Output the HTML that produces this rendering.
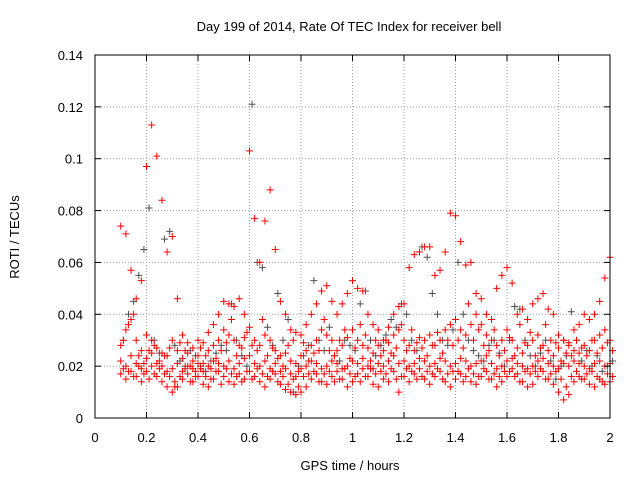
<!DOCTYPE html>
<html><head><meta charset="utf-8"><style>
body{margin:0;background:#fff;}
svg{display:block;font-family:"Liberation Sans",sans-serif;}
</style></head><body>
<svg id="chart" width="640" height="480" viewBox="0 0 640 480">
<rect width="640" height="480" fill="#fff"/>
<text x="349" y="31" font-size="13" text-anchor="middle">Day 199 of 2014, Rate Of TEC Index for receiver bell</text>
<text transform="translate(19,237) rotate(-90)" font-size="13" text-anchor="middle">ROTI / TECUs</text>
<text x="350" y="470" font-size="13" text-anchor="middle">GPS time / hours</text>
<g id="grid"></g><g id="pts"></g><g id="axes"></g>
</svg>
<script>
const times=[0.10,0.12,0.14,0.16,0.18,0.20,0.22,0.24,0.26,0.28,0.30,0.32,0.34,0.36,0.38,0.40,0.42,0.44,0.46,0.48,0.50,0.52,0.54,0.56,0.58,0.60,0.62,0.64,0.66,0.68,0.70,0.72,0.74,0.76,0.78,0.80,0.82,0.84,0.86,0.88,0.90,0.92,0.94,0.96,0.98,1.00,1.02,1.04,1.06,1.08,1.10,1.12,1.14,1.16,1.18,1.20,1.22,1.24,1.26,1.28,1.30,1.32,1.34,1.36,1.38,1.40,1.42,1.44,1.46,1.48,1.50,1.52,1.54,1.56,1.58,1.60,1.62,1.64,1.66,1.68,1.70,1.72,1.74,1.76,1.78,1.80,1.82,1.84,1.86,1.88,1.90,1.92,1.94,1.96,1.98,2.00];
const redHigh=[0.074,0.071,0.057,0.046,0.053,0.097,0.113,0.101,0.084,0.064,0.070,0.046,0.032,0.029,0.027,0.030,0.029,0.033,0.036,0.040,0.045,0.044,0.043,0.046,0.040,0.103,0.077,0.060,0.076,0.088,0.065,0.045,0.040,0.034,0.033,0.032,0.036,0.040,0.044,0.049,0.051,0.045,0.040,0.044,0.048,0.053,0.050,0.049,0.040,0.036,0.034,0.030,0.035,0.040,0.043,0.044,0.058,0.063,0.064,0.066,0.066,0.055,0.057,0.064,0.079,0.078,0.068,0.059,0.060,0.048,0.046,0.040,0.038,0.050,0.055,0.058,0.052,0.040,0.042,0.038,0.044,0.046,0.048,0.042,0.040,0.032,0.030,0.029,0.034,0.036,0.040,0.038,0.040,0.045,0.054,0.062];
const redMid=[0.028,0.034,0.038,0.030,0.026,0.032,0.030,0.027,0.025,0.024,0.030,0.026,0.023,0.025,0.022,0.024,0.021,0.026,0.028,0.030,0.034,0.032,0.030,0.028,0.031,0.035,0.030,0.028,0.032,0.030,0.026,0.024,0.025,0.022,0.021,0.024,0.026,0.028,0.030,0.034,0.032,0.030,0.026,0.028,0.031,0.034,0.030,0.028,0.027,0.025,0.028,0.026,0.029,0.032,0.034,0.030,0.028,0.026,0.031,0.030,0.032,0.028,0.030,0.034,0.036,0.038,0.034,0.032,0.036,0.040,0.036,0.032,0.030,0.028,0.030,0.034,0.030,0.027,0.025,0.028,0.030,0.032,0.028,0.026,0.024,0.027,0.030,0.028,0.026,0.025,0.028,0.026,0.030,0.032,0.034,0.030];
const redBase=[0.022,0.020,0.024,0.021,0.019,0.023,0.025,0.021,0.020,0.018,0.019,0.021,0.018,0.020,0.019,0.021,0.018,0.020,0.022,0.021,0.020,0.022,0.019,0.021,0.023,0.024,0.021,0.020,0.022,0.019,0.021,0.018,0.019,0.017,0.016,0.019,0.020,0.022,0.021,0.019,0.020,0.022,0.021,0.019,0.020,0.022,0.021,0.023,0.020,0.019,0.021,0.020,0.022,0.024,0.021,0.022,0.020,0.021,0.023,0.022,0.020,0.021,0.023,0.022,0.020,0.021,0.023,0.022,0.020,0.021,0.022,0.024,0.021,0.019,0.020,0.022,0.023,0.021,0.020,0.019,0.020,0.022,0.023,0.021,0.020,0.019,0.021,0.020,0.022,0.021,0.020,0.019,0.021,0.022,0.020,0.021];
const redLow=[0.017,0.015,0.018,0.016,0.014,0.018,0.020,0.016,0.014,0.012,0.010,0.012,0.015,0.017,0.014,0.016,0.013,0.012,0.015,0.018,0.016,0.014,0.013,0.017,0.015,0.018,0.016,0.014,0.012,0.015,0.017,0.013,0.011,0.010,0.009,0.010,0.012,0.015,0.017,0.014,0.013,0.016,0.018,0.015,0.012,0.014,0.017,0.019,0.016,0.013,0.012,0.015,0.014,0.018,0.010,0.016,0.014,0.017,0.019,0.015,0.013,0.016,0.018,0.014,0.012,0.015,0.017,0.016,0.014,0.013,0.016,0.018,0.015,0.012,0.014,0.016,0.019,0.017,0.014,0.012,0.013,0.016,0.018,0.015,0.013,0.010,0.007,0.009,0.014,0.016,0.015,0.013,0.012,0.015,0.013,0.014];
const redExtraA=[0.030,0.036,0.040,0.024,0.021,0.026,0.028,0.022,0.024,0.027,0.012,0.029,0.026,0.020,0.018,0.027,0.024,0.019,0.023,0.026,0.029,0.038,0.024,0.027,0.033,0.028,0.026,0.038,0.024,0.027,0.023,0.020,0.028,0.030,0.018,0.029,0.022,0.025,0.026,0.038,0.026,0.024,0.030,0.034,0.023,0.027,0.036,0.032,0.022,0.030,0.024,0.030,0.025,0.027,0.036,0.026,0.034,0.029,0.027,0.024,0.028,0.033,0.025,0.030,0.028,0.030,0.027,0.044,0.030,0.034,0.028,0.026,0.034,0.024,0.026,0.031,0.024,0.036,0.029,0.033,0.024,0.027,0.036,0.030,0.029,0.022,0.025,0.024,0.030,0.027,0.024,0.030,0.025,0.027,0.029,0.026];
const redExtraB=[0.019,0.018,0.016,0.020,0.017,0.015,0.017,0.019,0.017,0.016,0.014,0.016,0.019,0.014,0.016,0.019,0.016,0.015,0.018,0.013,0.019,0.017,0.016,0.014,0.018,0.015,0.019,0.017,0.016,0.018,0.014,0.016,0.013,0.015,0.012,0.016,0.017,0.018,0.014,0.017,0.018,0.014,0.015,0.019,0.017,0.016,0.014,0.016,0.019,0.017,0.018,0.017,0.019,0.015,0.016,0.019,0.018,0.015,0.016,0.018,0.017,0.019,0.015,0.017,0.018,0.018,0.014,0.019,0.017,0.016,0.019,0.015,0.017,0.016,0.018,0.018,0.016,0.014,0.018,0.017,0.018,0.019,0.015,0.017,0.018,0.015,0.012,0.016,0.018,0.015,0.017,0.018,0.016,0.014,0.017,0.016];
const grayVals=[0.030,0.040,0.045,0.055,0.065,0.081,0.030,0.025,0.069,0.072,0.028,0.022,0.020,0.026,0.024,0.020,0.018,0.022,0.025,0.028,0.026,0.044,0.030,0.024,0.020,0.121,0.060,0.058,0.035,0.028,0.048,0.030,0.038,0.010,0.020,0.024,0.028,0.053,0.030,0.026,0.035,0.024,0.022,0.030,0.028,0.026,0.044,0.049,0.030,0.024,0.028,0.032,0.038,0.035,0.044,0.040,0.030,0.026,0.066,0.062,0.048,0.040,0.030,0.028,0.034,0.060,0.040,0.030,0.026,0.024,0.022,0.028,0.030,0.025,0.020,0.030,0.043,0.042,0.030,0.024,0.020,0.025,0.030,0.022,0.015,0.020,0.024,0.041,0.030,0.022,0.026,0.020,0.024,0.018,0.020,0.022];
const xTicks=[0,0.2,0.4,0.6,0.8,1,1.2,1.4,1.6,1.8,2];
const xTickLabels=["0","0.2","0.4","0.6","0.8","1","1.2","1.4","1.6","1.8","2"];
const yTicks=[0,0.02,0.04,0.06,0.08,0.1,0.12,0.14];
const yTickLabels=["0","0.02","0.04","0.06","0.08","0.1","0.12","0.14"];

const L=95,R=610,T=55,B=418;
const xs=v=>L+(v-0)/(2-0)*(R-L);
const ys=v=>B-(v-0)/(0.14-0)*(B-T);
const NS="http://www.w3.org/2000/svg";
function mk(tag,attrs,parent){const e=document.createElementNS(NS,tag);for(const k in attrs)e.setAttribute(k,attrs[k]);parent.appendChild(e);return e;}
const grid=document.getElementById('grid'),axes=document.getElementById('axes'),pts=document.getElementById('pts');
xTicks.forEach((t,i)=>{
  const x=xs(t);
  if(i>0&&i<xTicks.length-1){const g=mk('line',{x1:x,x2:x,y1:T,y2:B,stroke:'#a0a0a0','stroke-dasharray':'1,2'},grid);
  
  }
  mk('line',{x1:x,x2:x,y1:B,y2:B-6,stroke:'#000'},axes);
  mk('line',{x1:x,x2:x,y1:T,y2:T+6,stroke:'#000'},axes);
  const lb=mk('text',{x:x,y:442,'font-size':13,'text-anchor':'middle'},axes);lb.textContent=xTickLabels[i];
  
  
});
yTicks.forEach((t,i)=>{
  const y=ys(t);
  if(i>0&&i<yTicks.length-1){const g=mk('line',{x1:L,x2:R,y1:y,y2:y,stroke:'#a0a0a0','stroke-dasharray':'1,2'},grid);
  
  }
  mk('line',{x1:L,x2:L+6,y1:y,y2:y,stroke:'#000'},axes);
  mk('line',{x1:R,x2:R-6,y1:y,y2:y,stroke:'#000'},axes);
  const lb=mk('text',{x:83,y:y+5,'font-size':13,'text-anchor':'end'},axes);lb.textContent=yTickLabels[i];
  
  
});
const fr=mk('rect',{x:L,y:T,width:R-L,height:B-T,fill:'none',stroke:'#000'},axes);


function plus(t,v,c,name){
  const x=xs(t),y=ys(v);
  const p=mk('path',{d:`M${x-3.5},${y}H${x+3.5}M${x},${y-3.5}V${y+3.5}`,stroke:c,'stroke-width':1,fill:'none'},pts);
  
  
}
times.forEach((t,i)=>plus(t+0.01,grayVals[i],'#505050','gray-point'));
[redHigh,redMid,redBase,redLow].forEach(arr=>times.forEach((t,i)=>plus(t,arr[i],'#ff0000','red-point')));
[redExtraA,redExtraB].forEach(arr=>times.forEach((t,i)=>plus(t+0.01,arr[i],'#ff0000','red-point')));
</script>
</body></html>
